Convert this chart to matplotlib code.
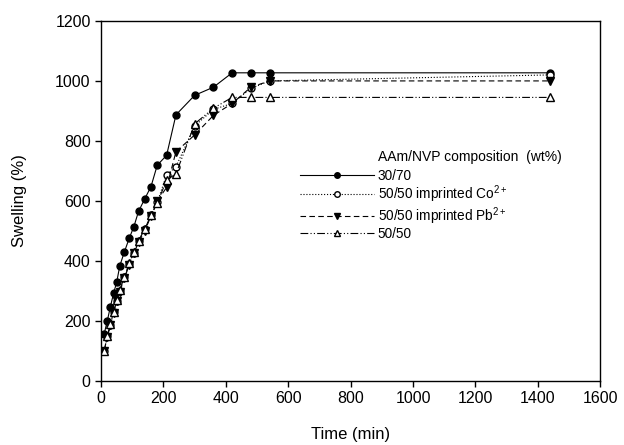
import matplotlib
matplotlib.use("Agg")
import matplotlib.pyplot as plt

plt.rcParams.update({
    "font.family": ["Liberation Sans", "DejaVu Sans"],
    "mathtext.fontset": "custom",
    "mathtext.rm": "Liberation Sans",
    "mathtext.it": "Liberation Sans:italic",
    "axes.linewidth": 1.0,
})

# swelling kinetics, time in min
time_min = [10, 20, 30, 40, 50, 60, 75, 90, 105, 120, 140, 160, 180,
            210, 240, 300, 360, 420, 480, 540, 1440]
sw_3070 = [157, 201, 248, 292, 329, 384, 431, 475, 514, 565, 607, 648, 719,
           752, 887, 952, 979, 1027, 1027, 1027, 1027]
sw_co = [100, 150, 188, 230, 268, 300, 345, 390, 428, 465, 505, 552, 595,
         687, 714, 850, 905, 925, 975, 1000, 1020]
sw_pb = [100, 148, 185, 228, 265, 298, 342, 387, 425, 462, 500, 550, 600,
         645, 764, 820, 885, 925, 979, 1000, 1000]
sw_5050 = [100, 151, 189, 231, 270, 303, 348, 392, 431, 468, 506, 553, 592,
           670, 690, 857, 909, 945, 945, 945, 945]

labels = ["30/70",
          r"50/50 imprinted Co$^{\mathregular{2+}}$",
          r"50/50 imprinted Pb$^{\mathregular{2+}}$",
          "50/50"]

fig = plt.figure(figsize=(6.24, 4.45), dpi=100)
ax = fig.add_axes([0.162, 0.144, 0.800, 0.809])

lw = 0.8
ms = 5
ax.plot(time_min, sw_3070, "-", color="k", lw=lw, marker="o", ms=ms,
        mfc="k", mec="k", label=labels[0])
ax.plot(time_min, sw_co, ":", color="k", lw=lw, marker="o", ms=ms,
        mfc="white", mec="k", label=labels[1])
ax.plot(time_min, sw_pb, "--", color="k", lw=lw, marker="v", ms=ms + 0.5,
        mfc="k", mec="k", dashes=(5, 3), label=labels[2])
ax.plot(time_min, sw_5050, color="k", lw=lw, marker="^", ms=ms + 0.5,
        mfc="white", mec="k", dashes=(7, 2, 1, 2, 1, 2), label=labels[3])

ax.set_xlim(0, 1600)
ax.set_ylim(0, 1200)
ax.set_xticks(range(0, 1601, 200))
ax.set_yticks(range(0, 1201, 200))
ax.tick_params(direction="out", length=4, width=1, labelsize=11.5)
ax.set_xlabel("Time (min)", fontsize=12, labelpad=15)
ax.set_ylabel("Swelling (%)", fontsize=12, labelpad=20)

# legend title placed by hand so it lines up with the entry labels
ax.text((378 - 101) / 499, (381 - 157) / 360, "AAm/NVP composition  (wt%)",
        transform=ax.transAxes, fontsize=10, va="center", ha="left")
ax.legend(loc="upper left", bbox_to_anchor=((300 - 101) / 499, (381 - 169) / 360),
          frameon=False, fontsize=9.8, handlelength=5.4, handletextpad=0.3,
          labelspacing=0.02, borderaxespad=0, borderpad=0, numpoints=1,
          markerscale=0.8)

fig.savefig("out.png", dpi=100)
